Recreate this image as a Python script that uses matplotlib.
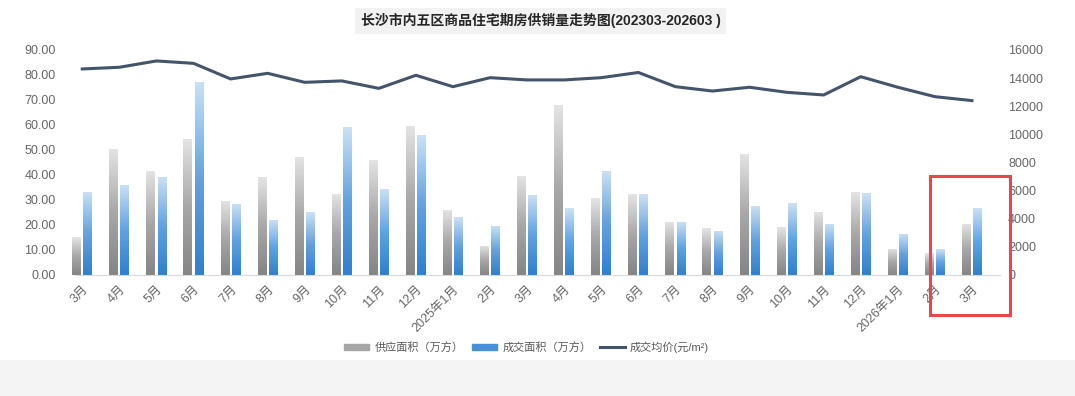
import numpy as np
import matplotlib.pyplot as plt
from matplotlib.colors import LinearSegmentedColormap
from matplotlib.patches import Rectangle
from matplotlib.lines import Line2D

plt.rcParams['font.family'] = ['Liberation Sans', 'Noto Sans CJK SC', 'DejaVu Sans']

months = ['3月', '4月', '5月', '6月', '7月', '8月', '9月', '10月', '11月', '12月',
          '2025年1月', '2月', '3月', '4月', '5月', '6月', '7月', '8月', '9月', '10月',
          '11月', '12月', '2026年1月', '2月', '3月']
supply = [15.1, 50.4, 41.6, 54.4, 29.7, 39.0, 47.3, 32.4, 46.0, 59.6,
          26.1, 11.7, 39.6, 68.0, 30.7, 32.3, 21.3, 18.7, 48.4, 19.1,
          25.3, 33.1, 10.4, 8.7, 20.4]
deal = [33.3, 36.0, 39.3, 77.2, 28.4, 22.0, 25.0, 59.0, 34.4, 55.9,
        23.0, 19.6, 32.0, 26.7, 41.7, 32.3, 21.3, 17.7, 27.7, 28.7,
        20.4, 32.7, 16.4, 10.3, 26.7]
price = [14650, 14770, 15220, 15050, 13940, 14340, 13700, 13800, 13270, 14200,
         13390, 14030, 13870, 13870, 14030, 14400, 13390, 13080, 13350, 12990,
         12800, 14100, 13350, 12680, 12400]

gray_cmap = LinearSegmentedColormap.from_list('g', ['#858585', '#a8a8a8', '#e4e4e4'])
blue_cmap = LinearSegmentedColormap.from_list('b', ['#3080ce', '#62a3e0', '#cbe1f5'])

fig = plt.figure(figsize=(10.75, 3.96), dpi=100)
# grey band at the bottom of the screenshot
fig.patches.append(Rectangle((0, 0), 1, 36 / 396, transform=fig.transFigure,
                             facecolor='#f4f4f4', edgecolor='none', zorder=0))

ax = fig.add_axes([0.070, 0.3056, 0.860, 0.5682])
ax2 = ax.twinx()

x = np.arange(len(months))
w = 0.24
grad = np.linspace(0, 1, 100).reshape(-1, 1)

def gradient_bars(xs, vals, cmap):
    bars = ax.bar(xs, vals, width=w, color='none', edgecolor='none')
    for b in bars:
        x0, y0 = b.get_x(), b.get_y()
        im = ax.imshow(grad, cmap=cmap, origin='lower', aspect='auto',
                       extent=[x0, x0 + b.get_width(), y0, y0 + b.get_height()],
                       zorder=2)
        im.set_clip_path(b)

gradient_bars(x - 0.15, supply, gray_cmap)
gradient_bars(x + 0.15, deal, blue_cmap)

ax2.plot(x, price, color='#44546a', lw=2.2)

ax.set_xlim(-0.19, 24.75)
ax.set_ylim(0, 90)
ax2.set_ylim(0, 16000)
ax.set_yticks(np.arange(0, 91, 10))
ax.set_yticklabels([f'{v:.2f}' for v in np.arange(0, 91, 10)])
ax2.set_yticks(np.arange(0, 16001, 2000))

ax.set_xticks(x)
ax.set_xticklabels(months, rotation=45, ha='right', rotation_mode='anchor')

for a in (ax, ax2):
    for s in a.spines.values():
        s.set_visible(False)
    a.tick_params(length=0, colors='#666666', labelsize=9)
ax.spines['bottom'].set_visible(True)
ax.spines['bottom'].set_color('#d9d9d9')
ax.tick_params(axis='y', pad=14)
ax.tick_params(axis='x', pad=6)
ax2.tick_params(axis='y', pad=6)

fig.text(0.503, 0.948, '长沙市内五区商品住宅期房供销量走势图(202303-202603 )',
         ha='center', va='center', fontsize=10, fontweight='bold', color='#262626',
         bbox=dict(facecolor='#f2f2f2', edgecolor='none', pad=4))

handles = [Rectangle((0, 0), 1, 1, color='#a6a6a6'),
           Rectangle((0, 0), 1, 1, color='#4a90d9'),
           Line2D([0], [0], color='#44546a', lw=2.2)]
labels = ['供应面积（万方）', '成交面积（万方）', '成交均价(元/m²)']
fig.legend(handles, labels, loc='center', bbox_to_anchor=(0.49, 0.123), ncol=3,
           frameon=False, fontsize=8, handlelength=2.2, handleheight=0.5,
           columnspacing=0.8, handletextpad=0.5, labelcolor='#595959')

# red highlight box
fig.patches.append(Rectangle((930 / 1075, 1 - 315 / 396), 80 / 1075, 139 / 396,
                             transform=fig.transFigure, fill=False,
                             edgecolor='#e8474c', lw=2.2, zorder=5))

fig.savefig('out.png', dpi=100)
